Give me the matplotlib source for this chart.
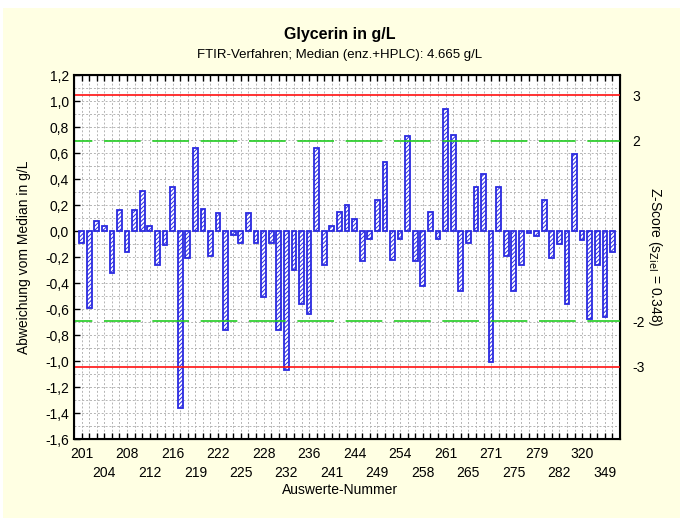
import numpy as np
import matplotlib.pyplot as plt
from matplotlib.patches import Rectangle

plt.rcParams['font.family'] = ['Liberation Sans', 'DejaVu Sans']
plt.rcParams['hatch.linewidth'] = 0.7

# Auswerte-Nummern (nur jede dritte beschriftet)
tick_labels = ['201', '204', '208', '212', '216', '219', '222', '225',
               '228', '232', '236', '241', '244', '249', '254', '258',
               '261', '265', '271', '275', '279', '282', '320', '349']

# Abweichung vom Median in g/L
deviations = [-0.09, -0.59, 0.08, 0.04, -0.32, 0.16, -0.16, 0.16, 0.31, 0.04,
              -0.26, -0.11, 0.34, -1.36, -0.21, 0.64, 0.17, -0.19, 0.14, -0.76,
              -0.03, -0.09, 0.14, -0.09, -0.51, -0.09, -0.76, -1.07, -0.30, -0.56,
              -0.64, 0.64, -0.26, 0.04, 0.15, 0.20, 0.09, -0.23, -0.06, 0.24,
              0.53, -0.22, -0.06, 0.73, -0.23, -0.42, 0.15, -0.06, 0.94, 0.74,
              -0.46, -0.09, 0.34, 0.44, -1.01, 0.34, -0.19, -0.46, -0.26, -0.013,
              -0.04, 0.24, -0.21, -0.10, -0.56, 0.59, -0.07, -0.68, -0.26, -0.66,
              -0.16]

y_tick_values = [-1.6, -1.4, -1.2, -1.0, -0.8, -0.6, -0.4, -0.2, 0.0,
                 0.2, 0.4, 0.6, 0.8, 1.0, 1.2]

s_ziel = 0.348
z_levels = [3, 2, -2, -3]

fig = plt.figure(figsize=(6.8, 5.18), dpi=100, facecolor='white')
fig.patches.append(Rectangle((0.004, 0), 0.996, 0.985, transform=fig.transFigure,
                             facecolor='#FFFFE3', edgecolor='none', zorder=-10))

ax = fig.add_axes([0.1088, 0.1525, 0.803, 0.7027])
ax.set_facecolor('white')

x = np.arange(len(deviations))
ax.bar(x, deviations, width=0.62, color='white', edgecolor='#2a2ae0',
       linewidth=1.3, hatch='////////', zorder=3)

# Grenzlinien (3 s und 2 s)
ax.axhline(3 * s_ziel, color='#ff1010', lw=1.2, zorder=4)
ax.axhline(-3 * s_ziel, color='#ff1010', lw=1.2, zorder=4)
green_ls = (11, (22, 7))
ax.axhline(2 * s_ziel, color='#22cc22', lw=1.2, ls=green_ls, zorder=4)
ax.axhline(-2 * s_ziel, color='#22cc22', lw=1.2, ls=green_ls, zorder=4)

ax.set_xlim(-1, 71)
ax.set_ylim(-1.6, 1.2)

ax.set_yticks(y_tick_values)
ax.set_yticklabels([('%.1f' % v).replace('.', ',') for v in y_tick_values], fontsize=10)
ax.set_yticks(np.arange(-16, 13) / 10, minor=True)

ax.set_xticks(x)
labs = []
for i in x:
    if i % 3 == 0:
        k = i // 3
        labs.append(tick_labels[k] if k % 2 == 0 else '\n' + tick_labels[k])
    else:
        labs.append('')
ax.set_xticklabels(labs, fontsize=10, linespacing=1.45)

ax.tick_params(axis='both', which='major', direction='in', top=True, right=True,
               length=4, width=1)
ax.tick_params(axis='y', which='minor', length=0)
ax.tick_params(axis='x', pad=6)

ax.grid(True, axis='x', which='major', color='#b4b4b4', lw=0.7, ls=(0, (2, 2)), zorder=0)
ax.grid(True, axis='y', which='both', color='#b4b4b4', lw=0.7, ls=(0, (2, 2)), zorder=0)
for sp in ax.spines.values():
    sp.set_linewidth(1.5)

# Z-Score Achse rechts
ax2 = ax.twinx()
ax2.set_ylim(ax.get_ylim())
ax2.set_yticks([z * s_ziel for z in z_levels])
ax2.set_yticklabels([str(z) for z in z_levels], fontsize=10)
ax2.tick_params(axis='y', length=0, pad=9)
ax2.set_ylabel('Z-Score (s$_{\\mathrm{Ziel}}$ = 0.348)', rotation=270,
               labelpad=14, fontsize=10)

ax.set_ylabel('Abweichung vom Median in g/L', fontsize=10, labelpad=10)
fig.text(0.5, 0.054, 'Auswerte-Nummer', ha='center', va='center', fontsize=10)

fig.text(0.5, 0.934, 'Glycerin in g/L', ha='center', va='center',
         fontsize=11.5, fontweight='bold')
fig.text(0.5, 0.893, 'FTIR-Verfahren; Median (enz.+HPLC): 4.665 g/L',
         ha='center', va='center', fontsize=9.5)

fig.savefig('out.png', dpi=100, facecolor=fig.get_facecolor())
